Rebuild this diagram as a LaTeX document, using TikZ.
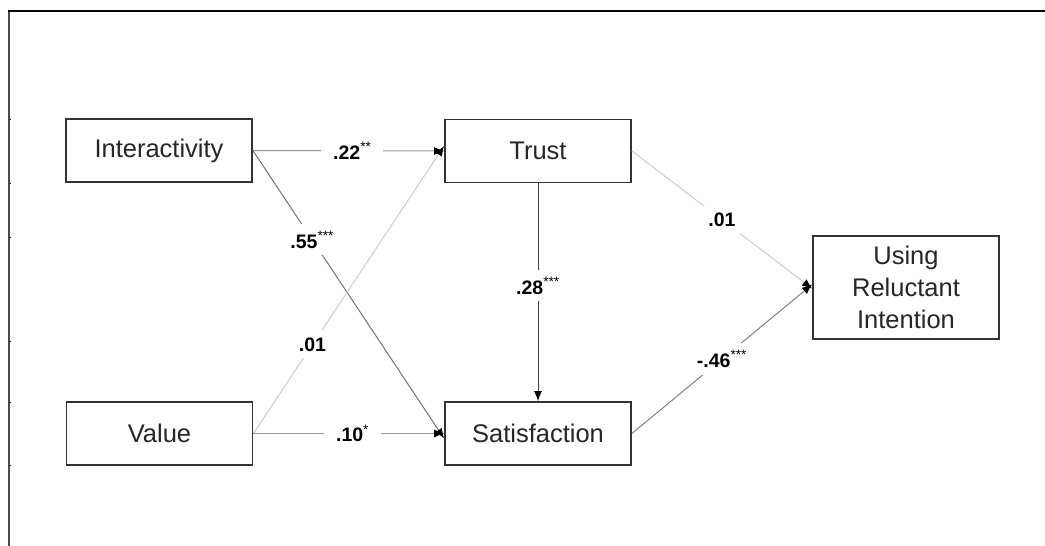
\documentclass[tikz,border=0pt]{standalone}
\usepackage{fontspec}
\setmainfont{Liberation Sans}
\usetikzlibrary{arrows.meta}
\begin{document}
\begin{tikzpicture}[x=1pt,y=-1pt,
  box/.style={draw=black!80,line width=1.8pt,fill=white,minimum width=186pt,minimum height=63pt,inner sep=0pt,align=center,font=\fontsize{25.5}{32}\selectfont,text=black!85},
  lab/.style={fill=white,inner xsep=12pt,inner ysep=7pt,font=\fontsize{19.5}{22}\selectfont\bfseries,text=black},
  conn/.style={line width=1pt,-{Latex[length=10pt,width=8pt,black]}},
  star/.style={},
]
\useasboundingbox (0,0) rectangle (1045,546);
% frame
\draw[line width=2pt,black!70] (9,546) -- (9,11);
\draw[line width=2pt,black] (8,11) -- (1045,11);
\foreach \t in {119,183,237,341,402,465} \draw[line width=1pt,black!80] (8,\t) -- (11,\t);
% boxes
\node[box] (I) at (159,150.5) {Interactivity};
\node[box] (V) at (159.5,433.5) {Value};
\node[box] (T) at (538,151) {Trust};
\node[box] (S) at (538,433.5) {Satisfaction};
\node[box,minimum height=103pt] (U) at (906,287.5) {Using\\Reluctant\\Intention};
% connectors
\draw[conn,black!40] (I.east) -- node[lab,pos=0.52] {.22\textsuperscript{\mdseries **}} (T.west);
\draw[conn,black!55] (I.east) -- node[lab,pos=0.31] {.55\textsuperscript{\mdseries ***}} ([yshift=-5pt]S.west);
\draw[conn,black!20] (V.east) -- node[lab,pos=0.31] {.01} ([yshift=5pt]T.west);
\draw[conn,black!40] (V.east) -- node[lab,pos=0.52] {.10\textsuperscript{\mdseries *}} (S.west);
\draw[conn,black!75] (T.south) -- node[lab,pos=0.47] {.28\textsuperscript{\mdseries ***}} (S.north);
\draw[conn,black!20] (T.east) -- node[lab,pos=0.5] {.01} ([yshift=-1pt]U.west);
\draw[conn,black!50] (S.east) -- node[lab,pos=0.5] {-.46\textsuperscript{\mdseries ***}} ([yshift=3pt]U.west);
\end{tikzpicture}
\end{document}
